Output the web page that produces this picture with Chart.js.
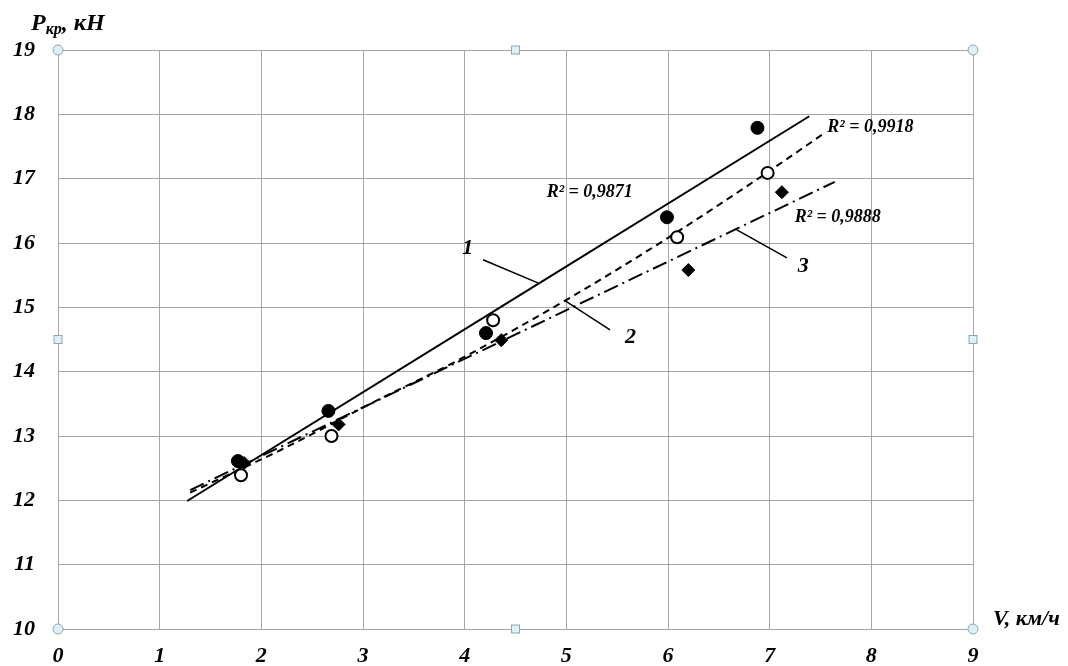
<!DOCTYPE html>
<html>
<head>
<meta charset="utf-8">
<script src="https://cdn.jsdelivr.net/npm/chart.js@4/dist/chart.umd.min.js"></script>
<style>
  html, body { margin: 0; padding: 0; background: #fff; }
  #wrap { width: 1068px; height: 666px; position: relative; }
</style>
</head>
<body>
<div id="wrap"><canvas id="c" width="1068" height="666"></canvas></div>
<script>
// Measured points: drawbar pull vs. speed
const series1 = [ {x: 1.77, y: 12.61}, {x: 2.66, y: 13.39}, {x: 4.21, y: 14.60}, {x: 5.99, y: 16.40}, {x: 6.88, y: 17.79} ];
const series2 = [ {x: 1.80, y: 12.39}, {x: 2.69, y: 13.00}, {x: 4.28, y: 14.80}, {x: 6.09, y: 16.09}, {x: 6.98, y: 17.09} ];
const series3 = [ {x: 1.83, y: 12.58}, {x: 2.76, y: 13.18}, {x: 4.36, y: 14.49}, {x: 6.20, y: 15.58}, {x: 7.12, y: 16.79} ];

// Trend curves
const trend1 = [ {x: 1.27, y: 11.99}, {x: 7.39, y: 17.97} ];
const trend2 = [ {x: 1.30, y: 12.12}, {x: 2.20, y: 12.79}, {x: 3.07, y: 13.50}, {x: 3.95, y: 14.19},
                 {x: 5.08, y: 15.19}, {x: 6.00, y: 16.08}, {x: 6.83, y: 16.94}, {x: 7.55, y: 17.72} ];
const trend3 = [ {x: 1.30, y: 12.16}, {x: 7.64, y: 16.95} ];

// Leader lines for curve numbers
const leader1 = [ {x: 4.18, y: 15.74}, {x: 4.72, y: 15.38} ];
const leader2 = [ {x: 4.99, y: 15.10}, {x: 5.43, y: 14.65} ];
const leader3 = [ {x: 6.66, y: 16.22}, {x: 7.17, y: 15.77} ];

const curveNumbers = [ {text: '1', x: 4.03, y: 15.92}, {text: '2', x: 5.63, y: 14.54}, {text: '3', x: 7.33, y: 15.63} ];
const r2Labels = [ {text: 'R² = 0,9871', x: 5.23, y: 16.78}, {text: 'R² = 0,9918', x: 7.99, y: 17.80}, {text: 'R² = 0,9888', x: 7.67, y: 16.40} ];

const xTicks = [0, 1, 2, 3, 4, 5, 6, 7, 8, 9];
const yTicks = [10, 11, 12, 13, 14, 15, 16, 17, 18, 19];

const SERIF = '"Liberation Serif", "Times New Roman", serif';
const GRID = '#a6a6a6';

function lineDs(data, dash, width) {
  return { data, showLine: true, borderColor: '#000', borderWidth: width, borderDash: dash,
           cubicInterpolationMode: 'monotone',
           pointRadius: 0, pointHoverRadius: 0, fill: false, order: 2 };
}

const textPlugin = {
  id: 'texts',
  afterDatasetsDraw(chart) {
    const ctx = chart.ctx, xs = chart.scales.x, ys = chart.scales.y;
    ctx.save();
    ctx.fillStyle = '#000';
    ctx.textAlign = 'center';
    ctx.textBaseline = 'middle';
    ctx.font = 'italic bold 22px ' + SERIF;
    curveNumbers.forEach(l => ctx.fillText(l.text, xs.getPixelForValue(l.x), ys.getPixelForValue(l.y)));
    ctx.font = 'italic bold 18px ' + SERIF;
    r2Labels.forEach(l => ctx.fillText(l.text, xs.getPixelForValue(l.x), ys.getPixelForValue(l.y)));

    // axis titles
    ctx.textAlign = 'left';
    ctx.textBaseline = 'alphabetic';
    ctx.font = 'italic bold 24px ' + SERIF;
    ctx.fillText('P', 31, 30);
    let w = ctx.measureText('P').width;
    ctx.font = 'italic bold 16px ' + SERIF;
    ctx.fillText('кр', 31 + w, 34);
    let w2 = ctx.measureText('кр').width;
    ctx.font = 'italic bold 24px ' + SERIF;
    ctx.fillText(', кН', 31 + w + w2, 30);
    ctx.font = 'italic bold 22px ' + SERIF;
    ctx.fillText('V, км/ч', 993, 625);

    // selection handles on the plot frame
    const a = chart.chartArea;
    const mx = (a.left + a.right) / 2, my = (a.top + a.bottom) / 2;
    ctx.lineWidth = 1;
    ctx.strokeStyle = '#8ea7b3';
    ctx.fillStyle = '#dcf0f5';
    [[a.left, a.top], [a.right, a.top], [a.left, a.bottom], [a.right, a.bottom]].forEach(p => {
      ctx.beginPath(); ctx.arc(p[0], p[1], 5, 0, Math.PI * 2); ctx.fill(); ctx.stroke();
    });
    [[mx, a.top], [mx, a.bottom], [a.left, my], [a.right, my]].forEach(p => {
      ctx.fillRect(p[0] - 4, p[1] - 4, 8, 8); ctx.strokeRect(p[0] - 4, p[1] - 4, 8, 8);
    });
    ctx.restore();
  }
};

new Chart(document.getElementById('c'), {
  type: 'scatter',
  data: {
    datasets: [
      lineDs(trend1, [], 2),
      lineDs(trend2, [7, 5], 2),
      lineDs(trend3, [15, 5, 2, 5], 2),
      lineDs(leader1, [], 1.5),
      lineDs(leader2, [], 1.5),
      lineDs(leader3, [], 1.5),
      { data: series1, pointStyle: 'circle', pointRadius: 6.5, backgroundColor: '#000', borderColor: '#000', borderWidth: 1, showLine: false, order: 1 },
      { data: series2, pointStyle: 'circle', pointRadius: 6, backgroundColor: '#fff', borderColor: '#000', borderWidth: 2, showLine: false, order: 0 },
      { data: series3, pointStyle: 'rectRot', pointRadius: 6.5, backgroundColor: '#000', borderColor: '#000', borderWidth: 1, showLine: false, order: 0 }
    ]
  },
  options: {
    responsive: false,
    animation: false,
    events: [],
    layout: { padding: { left: 0, top: 50, right: 95, bottom: 0 } },
    plugins: { legend: { display: false }, tooltip: { enabled: false } },
    scales: {
      x: {
        type: 'linear', min: 0, max: 9,
        afterFit(s) { s.height = 37; },
        afterBuildTicks(s) { s.ticks = xTicks.map(v => ({ value: v })); },
        grid: { color: GRID, lineWidth: 1, drawTicks: false },
        border: { color: GRID, width: 1 },
        ticks: { padding: 14, color: '#000', font: { family: SERIF, size: 22, style: 'italic', weight: 'bold' } }
      },
      y: {
        type: 'linear', min: 10, max: 19,
        afterFit(s) { s.width = 58; },
        afterBuildTicks(s) { s.ticks = yTicks.map(v => ({ value: v })); },
        grid: { color: GRID, lineWidth: 1, drawTicks: false },
        border: { color: GRID, width: 1 },
        ticks: { padding: 23, color: '#000', font: { family: SERIF, size: 22, style: 'italic', weight: 'bold' } }
      }
    }
  },
  plugins: [textPlugin, {
    id: 'frame',
    beforeDatasetsDraw(chart) {
      const a = chart.chartArea, ctx = chart.ctx;
      ctx.save(); ctx.strokeStyle = GRID; ctx.lineWidth = 1;
      ctx.strokeRect(a.left + 0.5, a.top + 0.5, a.right - a.left, a.bottom - a.top);
      ctx.restore();
    }
  }]
});
</script>
</body>
</html>
